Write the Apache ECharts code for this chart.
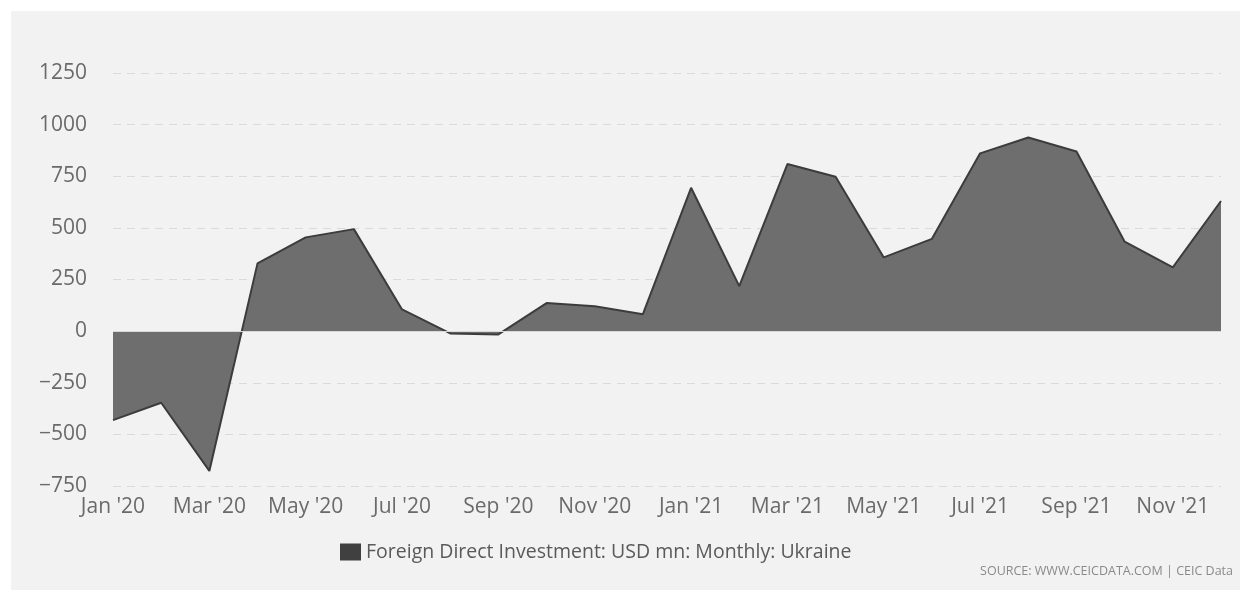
<!DOCTYPE html>
<html>
<head>
<meta charset="utf-8">
<script src="https://cdn.jsdelivr.net/npm/echarts@6/dist/echarts.min.js"></script>
<style>
  html, body { margin: 0; padding: 0; background: #ffffff; }
  #chart { position: absolute; left: 11px; top: 11px; width: 1229px; height: 579px; background: #f2f2f2; }
</style>
</head>
<body>
<div id="chart"></div>
<script>
// monthly categories
const months = [
  "Jan '20", "Feb '20", "Mar '20", "Apr '20", "May '20", "Jun '20",
  "Jul '20", "Aug '20", "Sep '20", "Oct '20", "Nov '20", "Dec '20",
  "Jan '21", "Feb '21", "Mar '21", "Apr '21", "May '21", "Jun '21",
  "Jul '21", "Aug '21", "Sep '21", "Oct '21", "Nov '21", "Dec '21"
];
// USD mn
const fdiValues = [
  -431, -347, -677, 328, 454, 494,
  105, -11, -16, 136, 120, 82,
  694, 218, 809, 748, 357, 447,
  861, 938, 870, 433, 309, 630
];
const seriesName = 'Foreign Direct Investment: USD mn: Monthly: Ukraine';
const sourceText = 'SOURCE: WWW.CEICDATA.COM | CEIC Data';

const chart = echarts.init(document.getElementById('chart'));

const option = {
  backgroundColor: '#f2f2f2',
  animation: false,
  textStyle: { fontFamily: '"Open Sans", sans-serif' },
  grid: { left: 102, right: 19, top: 62, bottom: 104, containLabel: false },
  legend: {
    data: [seriesName],
    left: 324,
    top: 526,
    itemWidth: 21,
    itemHeight: 17,
    itemGap: 6,
    icon: 'rect',
    textStyle: {
      color: '#5a5a5a',
      fontSize: 19.5
    }
  },
  graphic: [{
    type: 'text',
    right: 7,
    top: 554,
    style: {
      text: sourceText,
      fill: '#8a8a8a',
      fontSize: 12.5,
      fontFamily: '"Open Sans", sans-serif'
    }
  }],
  xAxis: {
    type: 'category',
    data: months,
    boundaryGap: false,
    axisLine: { show: false },
    axisTick: { show: false },
    axisLabel: {
      interval: 1,
      color: '#6a6a6a',
      fontSize: 21,
      margin: 11
    }
  },
  yAxis: {
    type: 'value',
    min: -750,
    max: 1250,
    interval: 250,
    axisLine: { show: false },
    axisTick: { show: false },
    axisLabel: {
      color: '#6a6a6a',
      fontSize: 21,
      margin: 26,
      formatter: v => String(v).replace('-', '\u2212')
    },
    splitLine: {
      lineStyle: { color: '#dadada', type: [8, 6], width: 1 }
    }
  },
  series: [{
    name: seriesName,
    type: 'line',
    data: fdiValues,
    symbol: 'none',
    color: '#404040',
    lineStyle: { color: '#3c3c3c', width: 2 },
    areaStyle: { color: '#6e6e6e', opacity: 1 },
    markLine: {
      silent: true,
      symbol: 'none',
      label: { show: false },
      lineStyle: { color: '#d8d8d8', type: 'solid', width: 1 },
      data: [{ yAxis: 0 }]
    }
  }]
};

chart.setOption(option);
</script>
</body>
</html>
